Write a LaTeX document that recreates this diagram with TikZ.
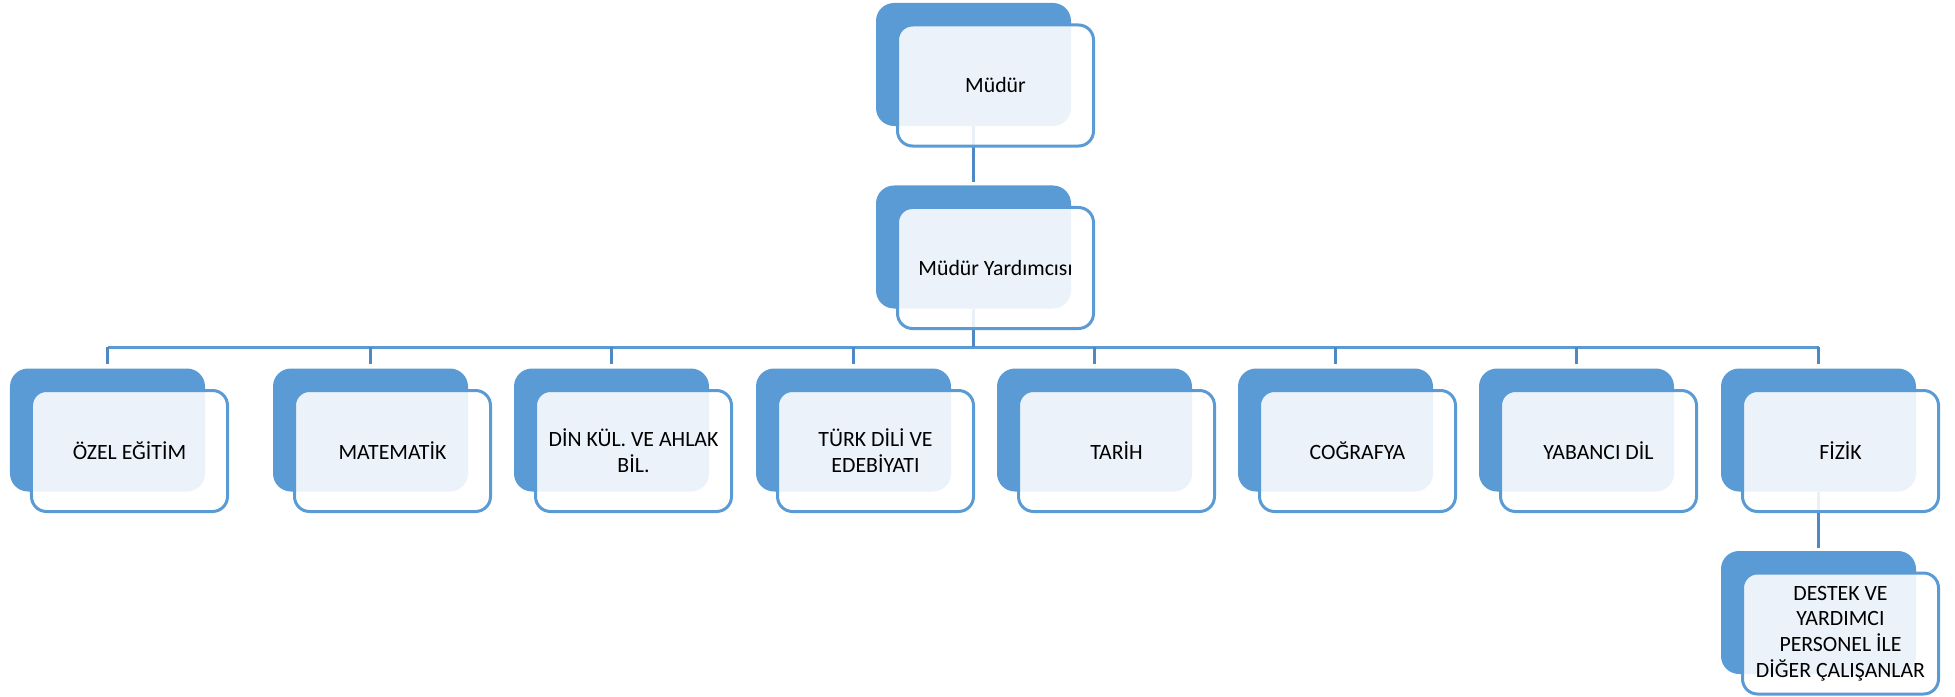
\documentclass[tikz,border=0pt]{standalone}
\usepackage{fontspec}
\setmainfont{Carlito}
\usetikzlibrary{backgrounds}
\definecolor{accent}{HTML}{5B9BD5}
\definecolor{connc}{HTML}{4F89C5}
\definecolor{txtc}{HTML}{000000}
\tikzset{
  backbox/.style={fill=accent, draw=none, rounded corners=18bp, minimum width=195bp, minimum height=123bp, inner sep=0pt},
  frontbox/.style={draw=accent, line width=3bp, fill=white, fill opacity=0.88, text opacity=1, rounded corners=15bp,
    minimum width=196bp, minimum height=121bp, inner sep=0pt, align=center, text=txtc,
    font=\fontsize{21.8bp}{25.8bp}\selectfont},
  conn/.style={draw=connc, line width=2.2bp},
  busline/.style={draw=accent, line width=3.5bp}
}
\begin{document}
\begin{tikzpicture}[x=1bp, y=-1bp]
\useasboundingbox (0,0) rectangle (1955,697);
% back boxes
\node[backbox] (b0) at (973.5,64.5) {};
\node[backbox] (b1) at (973.5,247) {};
\node[backbox] (c1) at (107.5,430) {};
\node[backbox] (c2) at (370.5,430) {};
\node[backbox] (c3) at (611.5,430) {};
\node[backbox] (c4) at (853.5,430) {};
\node[backbox] (c5) at (1094.5,430) {};
\node[backbox] (c6) at (1335.5,430) {};
\node[backbox] (c7) at (1576.5,430) {};
\node[backbox] (c8) at (1818.5,430) {};
\node[backbox] (d1) at (1818.5,612.5) {};
% front boxes
\node[frontbox] (f0) at ([xshift=22bp,yshift=-21bp]b0.center) {Müdür};
\node[frontbox] (f1) at ([xshift=22bp,yshift=-21bp]b1.center) {Müdür Yardımcısı};
\node[frontbox] (g1) at ([xshift=22bp,yshift=-21bp]c1.center) {ÖZEL EĞİTİM};
\node[frontbox] (g2) at ([xshift=22bp,yshift=-21bp]c2.center) {MATEMATİK};
\node[frontbox] (g3) at ([xshift=22bp,yshift=-21bp]c3.center) {DİN KÜL. VE AHLAK\\BİL.};
\node[frontbox] (g4) at ([xshift=22bp,yshift=-21bp]c4.center) {TÜRK DİLİ VE\\EDEBİYATI};
\node[frontbox] (g5) at ([xshift=22bp,yshift=-21bp]c5.center) {TARİH};
\node[frontbox] (g6) at ([xshift=22bp,yshift=-21bp]c6.center) {COĞRAFYA};
\node[frontbox] (g7) at ([xshift=22bp,yshift=-21bp]c7.center) {YABANCI DİL};
\node[frontbox] (g8) at ([xshift=22bp,yshift=-21bp]c8.center) {FİZİK};
\node[frontbox] (h1) at ([xshift=22bp,yshift=-21bp]d1.center) {DESTEK VE\\YARDIMCI\\PERSONEL İLE\\DİĞER ÇALIŞANLAR};
% bus coordinates
\foreach \c in {c1,c2,c3,c4,c5,c6,c7,c8}{
  \coordinate (\c-bus) at ([yshift=21bp]\c.north);
  \coordinate (\c-top) at ([yshift=4bp]\c.north);
}
\coordinate (b1-bus) at (b1.south |- c1-bus);
% connectors
\begin{pgfonlayer}{background}
\draw[conn] (b0.south) -- ([yshift=3bp]b1.north);
\draw[busline] (c1-bus) -- (c8-bus);
\draw[conn] (b1.south) -- (b1-bus);
\foreach \c in {c1,c2,c3,c4,c5,c6,c7,c8}{
  \draw[conn] (\c-bus) -- (\c-top);
}
\draw[conn] (c8.south) -- ([yshift=3bp]d1.north);
\end{pgfonlayer}
\end{tikzpicture}
\end{document}
